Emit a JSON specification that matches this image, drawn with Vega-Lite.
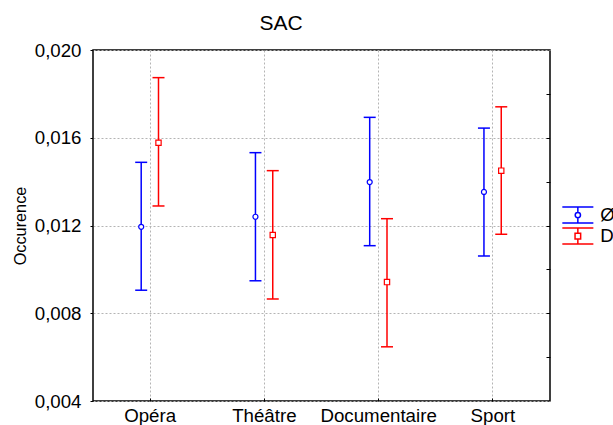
{
  "$schema": "https://vega.github.io/schema/vega-lite/v6.json",
  "width": 457,
  "height": 351,
  "autosize": {"type": "none"},
  "padding": {"left": 93, "top": 50, "right": 63, "bottom": 24},
  "background": "white",
  "title": {"text": "SAC", "fontSize": 21, "font": "Liberation Sans", "fontWeight": "normal", "color": "#000", "anchor": "middle", "baseline": "alphabetic", "offset": -9.5, "dx": -40.5},
  "config": {
    "view": {"stroke": "#000", "strokeWidth": 1.5},
    "axis": {"labelFont": "Liberation Sans", "titleFont": "Liberation Sans"}
  },
  "data": {"values": [
    {"cat": "Opéra", "g": "Ø", "mean": 0.01194, "lo": 0.00905, "hi": 0.01488},
    {"cat": "Opéra", "g": "D", "mean": 0.01577, "lo": 0.01289, "hi": 0.01874},
    {"cat": "Théâtre", "g": "Ø", "mean": 0.01240, "lo": 0.00948, "hi": 0.01532},
    {"cat": "Théâtre", "g": "D", "mean": 0.01157, "lo": 0.00865, "hi": 0.01450},
    {"cat": "Documentaire", "g": "Ø", "mean": 0.01398, "lo": 0.01108, "hi": 0.01693},
    {"cat": "Documentaire", "g": "D", "mean": 0.00942, "lo": 0.00647, "hi": 0.01231},
    {"cat": "Sport", "g": "Ø", "mean": 0.01353, "lo": 0.01061, "hi": 0.01644},
    {"cat": "Sport", "g": "D", "mean": 0.01450, "lo": 0.01160, "hi": 0.01741}
  ]},
  "encoding": {
    "x": {
      "field": "cat", "type": "nominal",
      "sort": ["Opéra", "Théâtre", "Documentaire", "Sport"],
      "scale": {"type": "band", "paddingInner": 0, "paddingOuter": 0},
      "axis": {
        "title": null, "labelAngle": 0, "bandPosition": 0.5, "domain": false,
        "tickSize": -3, "tickColor": "#000", "tickWidth": 1,
        "labelPadding": 8.6, "labelFontSize": 18.7, "labelColor": "#000",
        "grid": true, "gridColor": "#b4b4b4", "gridDash": [2, 2], "gridWidth": 1
      }
    },
    "xOffset": {"field": "g", "type": "nominal", "sort": ["Ø", "D"], "scale": {"type": "point", "padding": 0, "range": [48.2, 65.5]}}
  },
  "resolve": {"axis": {"y": "independent"}},
  "layer": [
    {
      "mark": {"type": "rule", "strokeWidth": 1.5},
      "encoding": {
        "color": {
          "field": "g", "type": "nominal", "sort": ["Ø", "D"],
          "scale": {"domain": ["Ø", "D"], "range": ["#0000ff", "#ff0000"]},
          "legend": {
            "title": null, "orient": "none", "legendX": 475.5, "legendY": 155.75, "padding": 0,
            "symbolSize": 256, "symbolStrokeWidth": 1.5, "symbolFillColor": "white",
            "symbolType": "M-1.94,-1H1.94M-1.94,1H1.94M0,-1V-0.33M0,0.33V1M-0.33,0A0.33,0.33 0 1,0 0.33,0A0.33,0.33 0 1,0 -0.33,0",
            "labelFont": "Liberation Sans", "labelFontSize": 18.7, "labelColor": "#000", "labelOffset": 13, "rowPadding": -2.5,
            "encode": {"symbols": {"update": {
              "fill": {"value": "white"},
              "fillOpacity": {"value": 0},
              "shape": [
                {"test": "datum.value === 'Ø'", "value": "M-1.94,-1H1.94M-1.94,1H1.94M0,-1V-0.33M0,0.33V1M-0.33,0A0.33,0.33 0 1,0 0.33,0A0.33,0.33 0 1,0 -0.33,0"},
                {"value": "M-1.94,-1H1.94M-1.94,1H1.94M0,-1V-0.35M0,0.35V1M-0.35,-0.35H0.35V0.35H-0.35Z"}
              ]
            }}},
            "encoding": {"symbols": {
              "fill": {"value": "white"},
              "fillOpacity": {"value": 0},
              "shape": {
                "condition": {"test": "datum.value === 'Ø'", "value": "M-1.94,-1H1.94M-1.94,1H1.94M0,-1V-0.33M0,0.33V1M-0.33,0A0.33,0.33 0 1,0 0.33,0A0.33,0.33 0 1,0 -0.33,0"},
                "value": "M-1.94,-1H1.94M-1.94,1H1.94M0,-1V-0.35M0,0.35V1M-0.35,-0.35H0.35V0.35H-0.35Z"
              }
            }}
          }
        },
        "y": {
          "field": "lo", "type": "quantitative", "title": "Occurence",
          "scale": {"domain": [0.004, 0.02], "nice": false, "zero": false},
          "axis": {
            "orient": "left", "values": [0.004, 0.008, 0.012, 0.016, 0.02],
            "format": ".3f", "labelExpr": "replace(datum.label, '.', ',')",
            "domain": false, "tickSize": 3, "tickColor": "#000", "tickWidth": 1,
            "labelPadding": 9, "labelFontSize": 18.7, "labelColor": "#000",
            "labelFlush": false, "labelOverlap": false, "labelBound": false,
            "grid": true, "gridColor": "#b4b4b4", "gridDash": [2, 2], "gridWidth": 1,
            "title": "Occurence", "titleFontSize": 16.3, "titleFontWeight": "normal", "titleColor": "#000", "titlePadding": 5.5
          }
        },
        "y2": {"field": "hi"}
      }
    },
    {
      "mark": {"type": "tick", "size": 12, "thickness": 1.5, "opacity": 1},
      "encoding": {
        "color": {"field": "g", "type": "nominal", "sort": ["Ø", "D"], "legend": null},
        "y": {"field": "lo", "type": "quantitative", "title": "Occurence", "axis": null}
      }
    },
    {
      "mark": {"type": "tick", "size": 12, "thickness": 1.5, "opacity": 1},
      "encoding": {
        "color": {"field": "g", "type": "nominal", "sort": ["Ø", "D"], "legend": null},
        "y": {
          "field": "hi", "type": "quantitative", "title": "Occurence",
          "axis": {
            "orient": "right", "title": null, "labels": false, "domain": false, "grid": false,
            "values": [0.006, 0.008, 0.01, 0.012, 0.014, 0.016, 0.018],
            "tickSize": -4, "tickColor": "#000", "tickWidth": 1
          }
        }
      }
    },
    {
      "transform": [{"filter": "datum.g === 'Ø'"}],
      "mark": {"type": "point", "shape": "circle", "filled": false, "fill": "white", "size": 25, "strokeWidth": 1.2, "opacity": 1},
      "encoding": {
        "color": {"field": "g", "type": "nominal", "sort": ["Ø", "D"], "legend": null},
        "y": {"field": "mean", "type": "quantitative", "title": "Occurence", "axis": null}
      }
    },
    {
      "transform": [{"filter": "datum.g === 'D'"}],
      "mark": {"type": "point", "shape": "square", "filled": false, "fill": "white", "size": 28, "strokeWidth": 1.2, "opacity": 1},
      "encoding": {
        "color": {"field": "g", "type": "nominal", "sort": ["Ø", "D"], "legend": null},
        "y": {"field": "mean", "type": "quantitative", "title": "Occurence", "axis": null}
      }
    }
  ]
}
